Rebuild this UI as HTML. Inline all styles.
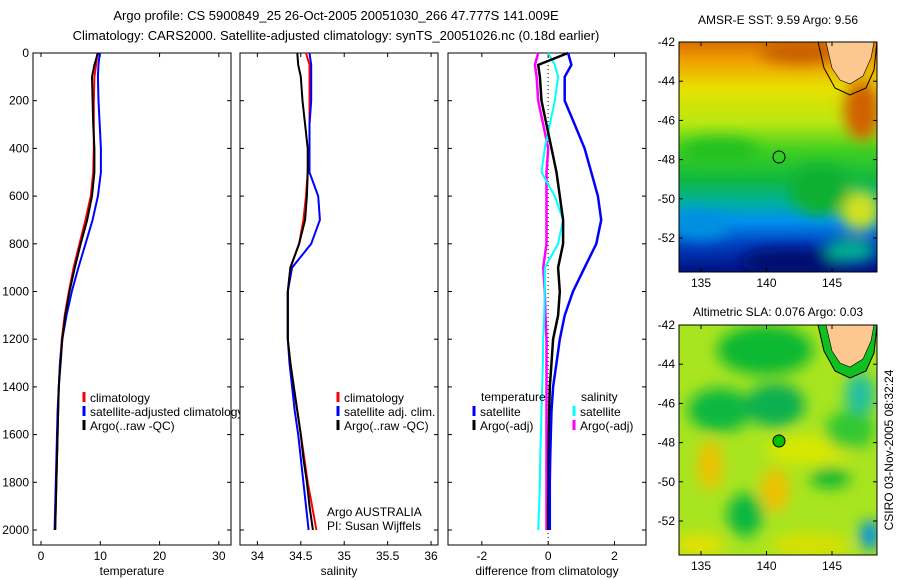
<!DOCTYPE html>
<html><head><meta charset="utf-8">
<style>
body{margin:0;background:#fff;}
svg{display:block;font-family:"Liberation Sans",sans-serif;}
text{fill:#000;}
</style></head>
<body>
<svg id="fig" width="900" height="580" viewBox="0 0 900 580">
<defs>
<linearGradient id="sstg" x1="0" y1="0" x2="0" y2="1">
<stop offset="0" stop-color="#d87000"/><stop offset="0.08" stop-color="#f0a000"/>
<stop offset="0.2" stop-color="#e8e000"/><stop offset="0.35" stop-color="#b8e810"/>
<stop offset="0.47" stop-color="#40d020"/><stop offset="0.6" stop-color="#10b840"/>
<stop offset="0.7" stop-color="#00b0a0"/><stop offset="0.78" stop-color="#0090f0"/>
<stop offset="0.88" stop-color="#0040c0"/><stop offset="1" stop-color="#001080"/>
</linearGradient>
<filter id="bl" x="-50%" y="-50%" width="200%" height="200%"><feGaussianBlur stdDeviation="7"/></filter>
<clipPath id="c1"><rect x="679" y="42" width="198" height="230"/></clipPath>
<clipPath id="c2"><rect x="679" y="325" width="198" height="230"/></clipPath>
</defs>
<text x="336" y="20" font-size="13" text-anchor="middle">Argo profile: CS 5900849_25 26-Oct-2005 20051030_266 47.777S 141.009E</text>
<text x="336" y="40" font-size="13" text-anchor="middle">Climatology: CARS2000. Satellite-adjusted climatology: synTS_20051026.nc (0.18d earlier)</text>
<g id="panels"></g>
<g id="maps">
<g clip-path="url(#c1)">
<rect x="679" y="42" width="198" height="230" fill="url(#sstg)"/>
<g filter="url(#bl)">
<ellipse cx="862" cy="110" rx="18" ry="30" fill="#d06000"/>
<ellipse cx="800" cy="52" rx="40" ry="12" fill="#c86000"/>
<ellipse cx="720" cy="150" rx="40" ry="12" fill="#20c020"/>
<ellipse cx="860" cy="210" rx="20" ry="20" fill="#d0e020"/>
<ellipse cx="820" cy="190" rx="30" ry="25" fill="#10b030"/>
<ellipse cx="790" cy="262" rx="50" ry="14" fill="#000870"/>
<ellipse cx="700" cy="225" rx="30" ry="15" fill="#0090e0"/>
<ellipse cx="850" cy="250" rx="25" ry="12" fill="#00b090"/>
</g>
<path d="M818,42 L877,42 L874,70 L866,88 L850,95 L835,88 L824,68 Z" fill="none" stroke="#000" stroke-width="1"/>
<path d="M826,42 L874,42 L871,58 L863,76 L850,84 L840,80 L832,68 Z" fill="#fcc890" stroke="#000" stroke-width="0.6"/>
<circle cx="779" cy="157" r="6" fill="none" stroke="#000" stroke-width="1"/>
</g>
<g clip-path="url(#c2)">
<rect x="679" y="325" width="198" height="230" fill="#a8e420"/>
<g filter="url(#bl)">
<ellipse cx="765" cy="350" rx="48" ry="25" fill="#10b830"/>
<ellipse cx="720" cy="410" rx="32" ry="22" fill="#10b840"/>
<ellipse cx="775" cy="405" rx="30" ry="22" fill="#10b050"/>
<ellipse cx="860" cy="395" rx="15" ry="22" fill="#20c0a0"/>
<ellipse cx="710" cy="465" rx="12" ry="25" fill="#f0c000"/>
<ellipse cx="775" cy="490" rx="14" ry="22" fill="#f0c000"/>
<ellipse cx="810" cy="545" rx="40" ry="12" fill="#d8e000"/>
<ellipse cx="830" cy="478" rx="20" ry="10" fill="#10b830"/>
<ellipse cx="745" cy="515" rx="18" ry="22" fill="#10b840"/>
<ellipse cx="870" cy="535" rx="10" ry="15" fill="#0090e0"/>
<ellipse cx="810" cy="450" rx="45" ry="15" fill="#d8e800"/>
<ellipse cx="700" cy="545" rx="25" ry="10" fill="#e8e000"/>
<ellipse cx="850" cy="430" rx="25" ry="20" fill="#30c830"/>
</g>
<path d="M818,325 L877,325 L874,353 L866,371 L850,378 L835,371 L824,351 Z" fill="#10c020" stroke="#000" stroke-width="1"/>
<path d="M826,325 L874,325 L871,341 L863,359 L850,367 L840,363 L832,351 Z" fill="#fcc890" stroke="#000" stroke-width="0.6"/>
<circle cx="779" cy="441" r="6" fill="#00c000" stroke="#000" stroke-width="1"/>
</g>
<text x="778" y="24" font-size="12" text-anchor="middle">AMSR-E SST: 9.59 Argo: 9.56</text>
<text x="778" y="316" font-size="12" text-anchor="middle">Altimetric SLA: 0.076 Argo: 0.03</text>
<text transform="translate(893,450) rotate(-90)" font-size="12" text-anchor="middle">CSIRO 03-Nov-2005 08:32:24</text>
</g>
</svg>
<script>
const depths=[0,50,100,200,300,400,500,600,700,800,900,1000,1100,1200,1300,1400,1500,1600,1700,1800,1900,2000];
const tempClim=[9.5,9.3,9.0,8.9,8.9,8.9,8.8,8.4,7.5,6.5,5.5,4.7,4.0,3.5,3.2,3.0,2.9,2.8,2.7,2.6,2.5,2.4];
const tempSat=[9.9,9.7,9.6,9.7,9.9,10.1,10.1,9.6,8.7,7.5,6.3,5.2,4.3,3.6,3.2,3.0,2.8,2.7,2.6,2.5,2.4,2.3];
const tempArgo=[9.6,9.0,8.6,8.7,8.8,9.0,9.0,8.6,7.8,6.7,5.7,4.8,4.1,3.6,3.3,3.0,2.9,2.8,2.7,2.6,2.5,2.4];
const salClim=[34.56,34.6,34.6,34.6,34.6,34.6,34.58,34.56,34.53,34.48,34.38,34.35,34.35,34.35,34.38,34.42,34.46,34.5,34.54,34.58,34.63,34.68];
const salSat=[34.6,34.62,34.62,34.62,34.6,34.6,34.6,34.7,34.72,34.62,34.4,34.35,34.35,34.35,34.37,34.4,34.43,34.47,34.5,34.53,34.56,34.59];
const salArgo=[34.46,34.47,34.5,34.52,34.55,34.58,34.58,34.57,34.55,34.48,34.38,34.35,34.35,34.35,34.38,34.42,34.46,34.5,34.53,34.57,34.6,34.64];
const dTempSat=[0.6,0.7,0.5,0.5,0.8,1.1,1.3,1.5,1.6,1.45,1.1,0.75,0.5,0.35,0.25,0.15,0.1,0.08,0.06,0.05,0.05,0.05];
const dTempArgo=[0.6,-0.3,-0.25,-0.2,-0.05,0.1,0.25,0.35,0.45,0.45,0.3,0.35,0.3,0.15,0.1,0.05,0.03,0.02,0.01,0.01,0,0];
const dSalSat=[0,0.2,0.3,0.2,0.05,-0.1,-0.2,0.2,0.45,0.3,-0.1,-0.1,-0.12,-0.15,-0.16,-0.18,-0.2,-0.22,-0.24,-0.25,-0.27,-0.3];
const dSalArgo=[-0.3,-0.4,-0.35,-0.3,-0.15,0,-0.05,-0.05,-0.05,-0.05,-0.15,-0.1,-0.08,-0.05,-0.05,-0.05,-0.05,-0.05,-0.05,-0.05,-0.05,-0.05];
const depthTicks=[0,200,400,600,800,1000,1200,1400,1600,1800,2000];
const tempTicks=[0,10,20,30];
const salTicks=[34,34.5,35,35.5,36];
const diffTicks=[-2,0,2];
const mapLatTicks=[-42,-44,-46,-48,-50,-52];
const mapLonTicks=[135,140,145];

const NS='http://www.w3.org/2000/svg';
const G=document.getElementById('panels');
function mk(t,a,p){const e=document.createElementNS(NS,t);for(const k in a)e.setAttribute(k,a[k]);(p||G).appendChild(e);return e;}
const Y0=53,Y1=545;
const yD=d=>Y0+d*(530-53)/2000;

function panel(name,x0,x1,vmin,vmax,ticks,label,showY){
  const g=mk('g',{});
  
  
  const sx=v=>x0+(v-vmin)/(vmax-vmin)*(x1-x0);
  const r=mk('rect',{x:x0,y:Y0,width:x1-x0,height:Y1-Y0,fill:'#fff',stroke:'#000','stroke-width':1},g);
  
  
  ticks.forEach(t=>{const x=sx(t);
    mk('line',{x1:x,x2:x,y1:Y1,y2:Y1-4,stroke:'#000'},g);
    mk('line',{x1:x,x2:x,y1:Y0,y2:Y0+4,stroke:'#000'},g);
    const tx=mk('text',{x:x,y:Y1+15,'font-size':12,'text-anchor':'middle'},g);tx.textContent=t;
    
    
  });
  depthTicks.forEach(d=>{const y=yD(d);
    mk('line',{x1:x0,x2:x0+4,y1:y,y2:y,stroke:'#000'},g);
    mk('line',{x1:x1,x2:x1-4,y1:y,y2:y,stroke:'#000'},g);
    if(showY){const tx=mk('text',{x:x0-4,y:y+4,'font-size':12,'text-anchor':'end'},g);tx.textContent=d;
      
      }
  });
  const lt=mk('text',{x:(x0+x1)/2,y:Y1+30,'font-size':12,'text-anchor':'middle'},g);lt.textContent=label;
  
  
  return {g,sx};
}
function line(p,vals,color,w,name){
  const pts=vals.map((v,i)=>p.sx(v).toFixed(1)+','+yD(depths[i]).toFixed(1)).join(' ');
  const l=mk('polyline',{points:pts,fill:'none',stroke:color,'stroke-width':w},p.g);
  
  
}
function legend(g,x,y,color,text){
  mk('line',{x1:x,x2:x,y1:y-10,y2:y,stroke:color,'stroke-width':3},g);
  const t=mk('text',{x:x+6,y:y,'font-size':12},g);t.textContent=text;
  
  
}
const p1=panel('temperature-panel',33,231,-1.35,32.05,tempTicks,'temperature',true);
line(p1,tempClim,'#f00',2,'temp-climatology-line');
line(p1,tempSat,'#00f',2,'temp-satellite-line');
line(p1,tempArgo,'#000',2,'temp-argo-line');
legend(p1.g,84,402,'#f00','climatology');
legend(p1.g,84,416,'#00f','satellite-adjusted climatology');
legend(p1.g,84,430,'#000','Argo(..raw -QC)');
const p2=panel('salinity-panel',240,438,33.80,36.08,salTicks,'salinity',false);
line(p2,salClim,'#f00',2,'sal-climatology-line');
line(p2,salSat,'#00f',2,'sal-satellite-line');
line(p2,salArgo,'#000',2,'sal-argo-line');
legend(p2.g,338,402,'#f00','climatology');
legend(p2.g,338,416,'#00f','satellite adj. clim.');
legend(p2.g,338,430,'#000','Argo(..raw -QC)');
let t1=mk('text',{x:327,y:516,'font-size':12},p2.g);t1.textContent='Argo AUSTRALIA';


let t2=mk('text',{x:327,y:530,'font-size':12},p2.g);t2.textContent='PI: Susan Wijffels';


const p3=panel('difference-panel',448,646,-3.02,2.95,diffTicks,'difference from climatology',false);
mk('line',{x1:p3.sx(0),x2:p3.sx(0),y1:Y0,y2:Y1,stroke:'#000','stroke-dasharray':'1,3'},p3.g);
line(p3,dSalArgo,'#f0f',2.5,'sal-argo-diff-line');
line(p3,dSalSat,'#0ff',2,'sal-satellite-diff-line');
line(p3,dTempArgo,'#000',2.5,'temp-argo-diff-line');
line(p3,dTempSat,'#00f',2.5,'temp-satellite-diff-line');
let tt=mk('text',{x:481,y:401,'font-size':12},p3.g);tt.textContent='temperature';


let ts=mk('text',{x:581,y:401,'font-size':12},p3.g);ts.textContent='salinity';


legend(p3.g,474,416,'#00f','satellite');
legend(p3.g,474,430,'#000','Argo(-adj)');
legend(p3.g,574,416,'#0ff','satellite');
legend(p3.g,574,430,'#f0f','Argo(-adj)');

const M=document.getElementById('maps');
function mapAxes(y0,name){
  const g=mk('g',{},M);
  
  
  const x0=679,x1=877,h=230;
  const sx=lon=>x0+(lon-133.32)*13.1;
  const sy=lat=>y0+(-42-lat)*19.6;
  mk('rect',{x:x0,y:y0,width:x1-x0,height:h,fill:'none',stroke:'#000'},g);
  mapLonTicks.forEach(l=>{const x=sx(l);
    mk('line',{x1:x,x2:x,y1:y0,y2:y0+4,stroke:'#000'},g);
    mk('line',{x1:x,x2:x,y1:y0+h,y2:y0+h-4,stroke:'#000'},g);
    const t=mk('text',{x:x,y:y0+h+15,'font-size':12,'text-anchor':'middle'},g);t.textContent=l;
    
    });
  mapLatTicks.forEach(l=>{const y=sy(l);
    mk('line',{x1:x0,x2:x0+4,y1:y,y2:y,stroke:'#000'},g);
    mk('line',{x1:x1,x2:x1-4,y1:y,y2:y,stroke:'#000'},g);
    const t=mk('text',{x:x0-4,y:y+4,'font-size':12,'text-anchor':'end'},g);t.textContent=l;
    
    });
}
mapAxes(42,'sst-map-axes');
mapAxes(325,'sla-map-axes');
</script>
</body></html>
